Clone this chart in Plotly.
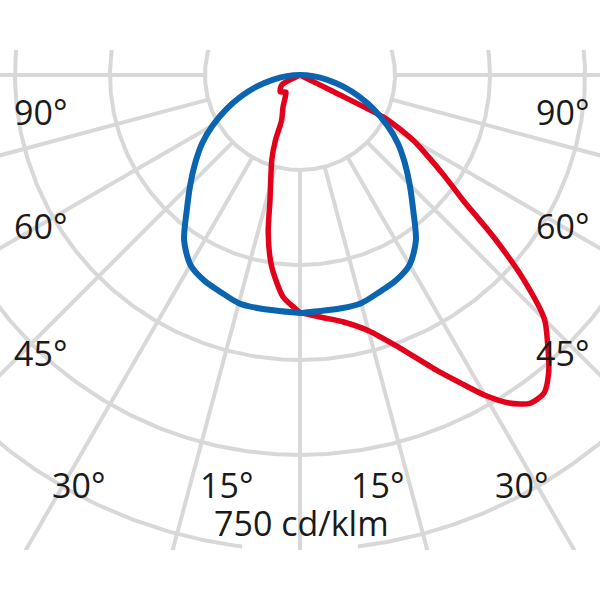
import numpy as np
import plotly.graph_objects as go

# ---- data (cd/klm vs. gamma angle, 0 deg = nadir) ----
ring_values = [150, 300, 450, 600, 750, 900]
scale_label = "750 cd/klm"
radial_angles = [-90, -75, -60, -45, -30, -15, 0, 15, 30, 45, 60, 75, 90]
angle_labels = ["90°", "60°", "45°", "30°", "15°"]

# C90/C270 plane (blue, symmetric)
blue_angles = [0, 10, 15, 20, 25, 30, 35, 40, 45, 50, 55, 60, 65, 70, 75, 80, 85, 90]
blue_vals = [376, 374, 373, 365, 358, 346, 319, 278, 245, 216, 189, 159, 129, 99, 71, 44, 21, 0]

# C0 half-plane (red, right side)
red_c0_angles = [0, 5, 10, 15, 20, 25, 27.5, 30, 32.5, 35, 37.5, 40, 42.5, 45, 47.5,
                 50, 52.5, 55, 57.5, 60, 62.5, 63.2, 63.5, 63.8, 90]
red_c0_vals = [375, 384, 396, 418, 458, 516, 548, 584, 614, 633, 633, 611, 579, 546, 480,
               401, 324, 279, 240, 207, 163, 147, 63, 0, 0]

# C180 half-plane (red, left side)
red_c180_angles = [0, 1.3, 4.4, 8.4, 11.4, 13.5, 18.4, 20.6, 22.1, 28, 33.1, 39.5, 49.6, 61.3, 90]
red_c180_vals = [375, 368, 351, 306, 254, 203, 141, 110, 77, 57, 43, 35, 41, 33, 0]

GRID = "#d8d8d8"
BLUE = "#0b64b0"
RED = "#e2001a"
FONT = "Open Sans"

W, H = 600, 600
PX = 750 / 475.0           # cd/klm per pixel
CX_PX, CY_PX = 300, 75     # pole position in pixels
TOP, BOT = 50, 550         # plot area vertical extent (pixels)


def to_xy(angles, vals, side):
    a = np.radians(np.asarray(angles, dtype=float))
    v = np.asarray(vals, dtype=float)
    return side * v * np.sin(a), -v * np.cos(a)


fig = go.Figure()

# rings
for rv in ring_values:
    t = np.radians(np.arange(0, 360.5, 0.5))
    x = rv * np.sin(t)
    y = -rv * np.cos(t)
    if rv == 750:
        gap = (np.degrees(t) < 7) | (np.degrees(t) > 353)
        x = np.where(gap, np.nan, x)
        y = np.where(gap, np.nan, y)
    fig.add_trace(go.Scatter(x=x, y=y, mode="lines", line=dict(color=GRID, width=4),
                             hoverinfo="skip", showlegend=False, connectgaps=False))

# radial lines
for ang in radial_angles:
    xs, ys = to_xy([ang, ang], [ring_values[0], 2000], 1)
    fig.add_trace(go.Scatter(x=xs, y=ys, mode="lines", line=dict(color=GRID, width=4),
                             hoverinfo="skip", showlegend=False))

# red curve: C180 (left, from 90 down to 0) then C0 (right, 0 up to 90)
lx, ly = to_xy(red_c180_angles[::-1], red_c180_vals[::-1], -1)
rx, ry = to_xy(red_c0_angles, red_c0_vals, 1)
fig.add_trace(go.Scatter(x=np.concatenate([lx, rx]), y=np.concatenate([ly, ry]),
                         mode="lines", line=dict(color=RED, width=5.5, shape="spline", smoothing=0.7),
                         showlegend=False, name="C0-C180"))

# blue curve: C270 (left) then C90 (right)
bx1, by1 = to_xy(blue_angles[::-1], blue_vals[::-1], -1)
bx2, by2 = to_xy(blue_angles, blue_vals, 1)
fig.add_trace(go.Scatter(x=np.concatenate([bx1, bx2]), y=np.concatenate([by1, by2]),
                         mode="lines", line=dict(color=BLUE, width=6, shape="spline", smoothing=0.8),
                         showlegend=False, name="C90-C270"))

# labels
def px_x(p):
    return p / W

def px_y(p):
    return (BOT - p) / (BOT - TOP)

fsize = 34
lab_font = dict(family=FONT, size=fsize, color="#1a1a1a")
side_rows = [(angle_labels[0], 112), (angle_labels[1], 226), (angle_labels[2], 353)]
for txt, yp in side_rows:
    fig.add_annotation(x=px_x(13), y=px_y(yp), xref="paper", yref="paper", text=txt,
                       showarrow=False, xanchor="left", yanchor="middle", height=28,
                       borderpad=0, font=lab_font)
    fig.add_annotation(x=px_x(590), y=px_y(yp), xref="paper", yref="paper", text=txt,
                       showarrow=False, xanchor="right", yanchor="middle", height=28,
                       borderpad=0, font=lab_font)

bottom_rows = [(angle_labels[3], 79), (angle_labels[4], 226), (angle_labels[4], 377), (angle_labels[3], 521)]
for txt, xp in bottom_rows:
    fig.add_annotation(x=px_x(xp), y=px_y(485), xref="paper", yref="paper", text=txt,
                       showarrow=False, xanchor="center", yanchor="middle", height=28,
                       borderpad=0, font=lab_font)

fig.add_annotation(x=px_x(301), y=px_y(523), xref="paper", yref="paper", text=scale_label,
                   showarrow=False, xanchor="center", yanchor="middle", height=28,
                   borderpad=0, font=lab_font)

fig.update_layout(
    width=W, height=H,
    margin=dict(l=0, r=0, t=TOP, b=H - BOT),
    paper_bgcolor="white", plot_bgcolor="white",
    xaxis=dict(range=[-CX_PX * PX, (W - CX_PX) * PX], visible=False, fixedrange=True),
    yaxis=dict(range=[-(BOT - CY_PX) * PX, (CY_PX - TOP) * PX], visible=False, fixedrange=True),
    showlegend=False,
)

fig.write_html("out.html", config={"displayModeBar": False},
               post_script="document.body.style.margin='0';")
